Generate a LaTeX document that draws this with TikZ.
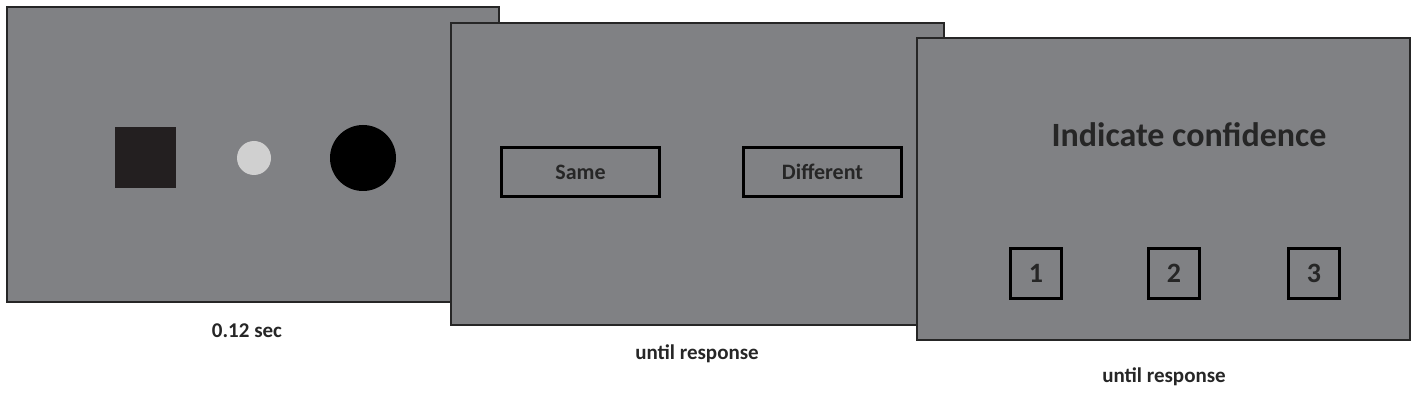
\documentclass[tikz,border=0pt]{standalone}
\usepackage{fontspec}
\setmainfont{Carlito}
\begin{document}
\begin{tikzpicture}[x=1pt,y=-1pt,
  panel/.style={draw=black!85,line width=2pt,fill=scr},
  resp/.style={draw=black,line width=3.5pt,minimum width=158pt,minimum height=49pt,font=\fontsize{22}{26}\selectfont\bfseries,text=black!85,inner sep=0pt},
  num/.style={draw=black,line width=3.5pt,minimum width=51pt,minimum height=50pt,font=\fontsize{28}{32}\selectfont\bfseries,text=black!85,inner sep=0pt},
  caplabel/.style={font=\fontsize{21}{25}\selectfont\bfseries,text=black!85}]
\definecolor{scr}{HTML}{808184}
\useasboundingbox[fill=white] (0,0) rectangle (1418,403);
\draw[panel] (7,7) rectangle (499,302);
\node[fill={rgb,255:red,35;green,31;blue,32},minimum size=61pt,inner sep=0pt] (sq) at (145.5,158) {};
\node[circle,fill={rgb,255:red,208;green,208;blue,208},minimum size=34pt,inner sep=0pt] (c1) at (254,158) {};
\node[circle,fill=black,minimum size=66pt,inner sep=0pt] (c2) at (363,158) {};
\node[caplabel] (l1) at (247,331) {0.12 sec};
\draw[panel] (451,23) rectangle (944,325);
\node[resp] (same) at (580.5,172) {Same};
\node[resp] (diff) at (822.5,172) {Different};
\node[caplabel] (l2) at (697,354) {until response};
\draw[panel] (917,38) rectangle (1410,340);
\node[font=\fontsize{34}{40}\selectfont\bfseries,text=black!85] (ind) at (1189,135) {Indicate confidence};
\node[num] (n1) at (1036,273.5) {1};
\node[num] (n2) at (1174,273.5) {2};
\node[num] (n3) at (1314,273.5) {3};
\node[caplabel] (l3) at (1164,377) {until response};
\end{tikzpicture}
\end{document}
